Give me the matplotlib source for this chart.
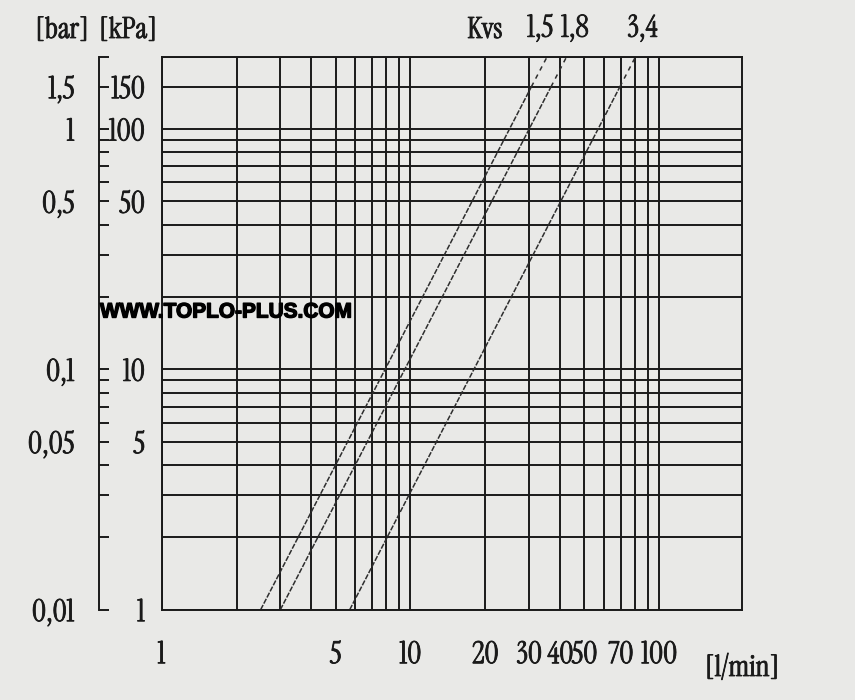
import matplotlib
matplotlib.use('Agg')
import matplotlib.pyplot as plt
import matplotlib.patheffects as pe
from matplotlib.ticker import FixedLocator, FixedFormatter, NullLocator, NullFormatter

# ---------------- data ----------------
x_grid = [1, 2, 3, 4, 5, 6, 7, 8, 9, 10, 20, 30, 40, 50, 60, 70, 80, 90, 100]
x_max = 215
y_grid = [1, 2, 3, 4, 5, 6, 7, 8, 9, 10, 20, 30, 40, 50, 60, 70, 80, 90, 100, 150, 200]
x_ticks = [1, 5, 10, 20, 30, 40, 50, 70, 100]
x_tick_labels = ['1', '5', '10', '20', '30', '40', '50', '70', '100']
kpa_ticks = [1, 5, 10, 50, 100, 150]
kpa_labels = ['1', '5', '10', '50', '100', '150']
bar_labels = ['0,01', '0,05', '0,1', '0,5', '1', '1,5']
spine_ticks = [1, 2, 3, 4, 5, 6, 7, 8, 9, 10, 20, 30, 40, 50, 60, 70, 80, 90, 100, 150, 200]
kvs_labels = ['1,5', '1,8', '3,4']
flow_at_1kpa = [2.5, 3.0, 5.7]
flow_at_150kpa = [30.6, 36.7, 69.4]
flow_at_200kpa = [35.4, 42.4, 80.2]
dp_points = [1, 150, 200]

# ---------------- style ----------------
bg = '#e9e9e7'
ink = '#1a1a1a'
serif = ['Instrument Serif', 'Liberation Serif', 'DejaVu Serif']
sans = ['Liberation Sans', 'DejaVu Sans']
fs = 22
fs_head = 21
label_dx_pt = [-5, 6, 5]
bold = [pe.withStroke(linewidth=0.6, foreground=ink)]

fig = plt.figure(figsize=(8.55, 7), dpi=100, facecolor=bg)
ax = fig.add_axes([0.189, 0.129, 0.679, 0.790])
ax.set_facecolor(bg)
ax.set_xscale('log')
ax.set_yscale('log')
ax.set_xlim(x_grid[0], x_max)
ax.set_ylim(y_grid[0], y_grid[-1])

for v in x_grid:
    ax.axvline(v, color=ink, lw=1.4, zorder=1)
for v in y_grid:
    ax.axhline(v, color=ink, lw=1.4, zorder=1)
for s in ax.spines.values():
    s.set_color(ink)
    s.set_linewidth(1.4)

# Kvs lines
for i in range(len(kvs_labels)):
    ax.plot([flow_at_1kpa[i], flow_at_150kpa[i]], dp_points[:2], color='#2e2e2e',
            lw=1.1, dashes=(3.5, 1.0), zorder=2)
    ax.plot([flow_at_150kpa[i], flow_at_200kpa[i]], dp_points[1:], color='#2e2e2e',
            lw=1.1, dashes=(3.0, 3.0), zorder=2)
    ax.annotate(kvs_labels[i], xy=(flow_at_200kpa[i], dp_points[2]),
                xytext=(label_dx_pt[i], 10), textcoords='offset points',
                ha='center', va='bottom', fontsize=fs, family=serif, color=ink,
                annotation_clip=False, path_effects=bold)

# x axis
ax.xaxis.set_major_locator(FixedLocator(x_ticks))
ax.xaxis.set_major_formatter(FixedFormatter(x_tick_labels))
ax.xaxis.set_minor_locator(NullLocator())
ax.tick_params(axis='x', length=0, pad=22, labelsize=fs, labelcolor=ink)
# kPa labels
ax.yaxis.set_major_locator(FixedLocator(kpa_ticks))
ax.yaxis.set_major_formatter(FixedFormatter(kpa_labels))
ax.yaxis.set_minor_locator(NullLocator())
ax.tick_params(axis='y', length=0, pad=12, labelsize=fs, labelcolor=ink)
for lab in ax.get_xticklabels() + ax.get_yticklabels():
    lab.set_family(serif)
    lab.set_path_effects(bold)

# separate pressure axis line with ticks
sec = ax.secondary_yaxis(-0.107)
sec.yaxis.set_major_locator(FixedLocator(spine_ticks))
sec.yaxis.set_major_formatter(NullFormatter())
sec.yaxis.set_minor_locator(NullLocator())
sec.tick_params(direction='in', length=7, width=1.4, color=ink)
sec.spines['left'].set_linewidth(1.4)
sec.spines['left'].set_color(ink)

# bar labels
sec2 = ax.secondary_yaxis(-0.107)
sec2.spines['left'].set_visible(False)
sec2.yaxis.set_major_locator(FixedLocator(kpa_ticks))
sec2.yaxis.set_major_formatter(FixedFormatter(bar_labels))
sec2.yaxis.set_minor_locator(NullLocator())
sec2.tick_params(length=0, pad=18, labelsize=fs, labelcolor=ink)
for lab in sec2.get_yticklabels():
    lab.set_family(serif)
    lab.set_path_effects(bold)

for xpix, ypix, txt in [(62, 30, '[bar]'), (128, 30, '[kPa]'), (485, 30, 'Kvs'), (742, 668, '[l/min]')]:
    fig.text(xpix / 855, 1 - ypix / 700, txt, ha='center', va='center', fontsize=fs_head,
             family=serif, color=ink, path_effects=bold)
fig.text(100 / 855, 1 - 312 / 700, 'WWW.TOPLO-PLUS.COM', ha='left', va='center', fontsize=15,
         weight='bold', family=sans, color='black', zorder=5,
         path_effects=[pe.withStroke(linewidth=1.0, foreground='black')])

fig.savefig('out.png', dpi=100, facecolor=bg)
